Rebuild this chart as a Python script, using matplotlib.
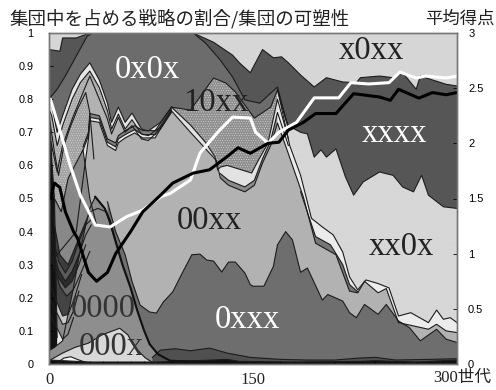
import matplotlib
matplotlib.use('Agg')
import matplotlib.pyplot as plt

plt.rcParams['hatch.linewidth'] = 0.35

# dark band / xxxx
dark_g = [0, 8, 10, 20, 30, 106, 121, 135, 140, 148, 157, 165, 171, 176, 185, 195, 204, 216, 226, 229, 243, 253, 260, 270, 273, 292, 300]
dark_v = [.95, .945, .985, .985, 1, 1, .972, .933, .91, .88, .95, .925, .928, .91, .873, .837, .865, .852, .85, .865, .87, .865, .88, .83, .87, .845, .84]

# 0x0x
oxox_g = [0, 6, 12, 20, 28, 32, 106, 115, 126, 135, 144, 155, 168, 176]
oxox_v = [.80, .83, .87, .93, .99, 1, 1, .97, .918, .867, .798, .788, .837, .71]

# 10xx
tenx_g = [90, 104, 121, 130, 137, 151, 163, 168, 176]
tenx_v = [.776, .767, .864, .849, .822, .743, .776, .828, .716]

# xx0x
xxox_g = [168, 174, 176, 185, 190, 195, 200, 204, 211, 218, 224, 231, 243, 253, 260, 268, 274, 279, 290, 300]
xxox_v = [.83, .74, .72, .70, .695, .625, .647, .625, .65, .565, .51, .55, .58, .57, .535, .52, .57, .51, .475, .47]

# bands above 00xx on the left
band_g = [0, 2, 6, 10, 17, 23, 30, 37, 43, 46, 51, 56, 61, 68, 73, 82, 90]
band_a = [.80, .78, .70, .75, .83, .875, .91, .858, .788, .73, .776, .73, .758, .71, .704, .73, .776]
band_b = [.77, .75, .66, .72, .80, .85, .885, .835, .765, .71, .755, .71, .738, .695, .69, .715, .765]
band_c = [.70, .66, .58, .66, .74, .80, .87, .80, .74, .695, .745, .70, .72, .68, .675, .71, .76]

check_g = [0, 4, 7, 11, 16, 21, 27, 30, 33]
check_v = [.75, .64, .57, .66, .72, .77, .82, .76, .62]

low_g = [25, 29, 30, 37, 43, 49, 51, 56, 63, 69, 78, 90]
low_a = [.656, .70, .757, .75, .68, .668, .69, .705, .72, .705, .705, .775]
low_b = [.645, .69, .745, .74, .67, .656, .68, .693, .708, .693, .693, .77]

# light wedges and thin strips round the 10xx hump
wedge_g = [90, 104, 115, 122, 124, 126, 131, 149, 154, 161, 168, 176]
wedge_v = [.776, .722, .67, .626, .586, .595, .60, .577, .616, .667, .80, .68]

edge_g = [126, 132, 144, 151, 157, 163, 168, 176]
edge_v = [.575, .555, .535, .555, .62, .675, .76, .66]

strip_g = [168, 177, 185, 193, 201, 209, 216, 221, 227, 233, 242, 250, 257, 266, 279, 285, 290, 295, 300]
strip_v = [.83, .66, .57, .44, .414, .39, .338, .263, .224, .254, .243, .23, .145, .155, .125, .163, .135, .14, .125]

strip2_g = [185, 196, 207, 216, 221, 227]
strip2_v = [.52, .385, .36, .30, .24, .218]

# 00xx
ooxx_g = [0, 20, 27, 29, 30, 37, 43, 49, 51, 56, 63, 69, 78, 90, 104, 123, 126, 132, 144, 151, 157, 163, 168, 175, 187, 196, 211, 221, 227, 232, 242, 248, 257, 279, 285, 292, 300]
ooxx_v = [.30, .40, .62, .68, .735, .73, .66, .645, .668, .683, .698, .683, .683, .765, .70, .615, .562, .54, .52, .54, .607, .66, .728, .647, .505, .365, .33, .22, .215, .25, .215, .228, .125, .105, .12, .10, .095]

# messy layers at the start
lump_g = [0, 4, 9, 14, 19, 25, 27, 30, 35]
lump_v = [.55, .50, .46, .56, .60, .647, .59, .50, .42]

mess1_g = [0, 4, 8, 14, 20, 26, 30, 36, 42, 48]
mess1_v = [.50, .42, .33, .30, .36, .42, .46, .47, .46, .38]

mess1b_g = [0, 3, 7, 12, 17, 22, 27, 32]
mess1b_v = [.46, .38, .31, .275, .31, .37, .42, .44]

mess1c_g = [0, 3, 7, 12, 17, 22, 27, 31]
mess1c_v = [.42, .35, .285, .25, .28, .33, .39, .42]

mess1d_g = [0, 3, 7, 12, 17, 22, 27]
mess1d_v = [.38, .32, .26, .23, .25, .30, .36]

mess2_g = [0, 4, 8, 13, 18, 24, 30]
mess2_v = [.34, .29, .235, .205, .225, .28, .34]

mess3_g = [0, 3, 7, 10, 14, 18, 24]
mess3_v = [.24, .215, .175, .145, .15, .19, .27]

mess3b_g = [0, 3, 7, 10, 14, 18, 22]
mess3b_v = [.20, .175, .145, .12, .125, .16, .22]

mess4_g = [0, 3, 7, 10, 14, 18]
mess4_v = [.16, .13, .10, .075, .09, .14]

stripe_g = [0, 2, 4, 5, 6]
stripe_v = [.78, .62, .50, .30, .08]

# 0xxx
oxxx_g = [43, 49, 56, 61, 67, 74, 79, 84, 91, 98, 105, 111, 116, 121, 127, 132, 137, 144, 148, 150, 158, 165, 168, 174, 179, 185, 190, 201, 205, 216, 221, 226, 232, 242, 248, 257, 265, 273, 285, 292, 300]
oxxx_v = [.49, .40, .33, .25, .178, .157, .154, .187, .218, .275, .33, .332, .314, .311, .278, .308, .308, .275, .24, .235, .235, .295, .36, .40, .375, .277, .29, .193, .21, .19, .155, .14, .18, .15, .18, .13, .11, .07, .105, .075, .065]

# 0000 / 000x
zero_g = [0, 4, 10, 14, 18, 21, 26, 30, 34, 41, 45, 49, 54, 60, 65, 70, 74, 80, 89, 148]
zero_v = [.04, .05, .07, .15, .23, .30, .40, .47, .505, .47, .43, .37, .30, .23, .16, .10, .06, .03, .01, 0]

ooox_g = [0, 10, 19, 29, 39, 52, 58, 63, 71, 76]
ooox_v = [.01, .033, .05, .063, .088, .108, .088, .05, .018, .005]

spot_g = [6, 11, 16, 22, 28]
spot_v = [.004, .018, .022, .012, .004]

# thin layers along the bottom
noise_g = [76, 82, 93, 104, 118, 131, 148, 170, 190, 210, 228, 240, 255, 280, 300]
noise_v = [.02, .042, .046, .04, .048, .033, .02, .014, .012, .012, .018, .02, .012, .014, .016]

base_g = [0, 30, 80, 120, 131, 140, 180, 230, 240, 270, 300]
base_v = [.012, .006, .006, .012, .014, .008, .006, .008, .01, .006, .012]

# lines
white_g = [1, 8, 15, 23, 28, 34, 45, 57, 69, 82, 89, 104, 111, 124, 135, 148, 152, 161, 169, 182, 195, 204, 213, 222, 235, 250, 258, 270, 277, 292, 300]
white_v = [.80, .707, .607, .51, .47, .42, .414, .445, .465, .505, .515, .556, .637, .70, .746, .743, .70, .667, .70, .73, .804, .804, .804, .85, .846, .85, .882, .864, .87, .864, .87]

black_g = [1, 4, 8, 12, 18, 21, 29, 35, 43, 49, 60, 69, 82, 91, 106, 118, 131, 139, 148, 161, 169, 176, 187, 196, 211, 224, 243, 251, 257, 272, 282, 292, 300]
black_v = [1.5, 1.64, 1.6, 1.38, 1.2, 1.14, .83, .75, .83, 1.0, 1.2, 1.38, 1.53, 1.64, 1.73, 1.76, 1.88, 1.96, 1.91, 2.0, 2.01, 2.12, 2.19, 2.27, 2.27, 2.45, 2.42, 2.39, 2.49, 2.41, 2.46, 2.44, 2.46]

left_ticks = [0, .1, .2, .3, .4, .5, .6, .7, .8, .9, 1]
left_labels = ['0', '0.1', '0.2', '0.3', '0.4', '0.5', '0.6', '0.7', '0.8', '0.9', '1']
right_ticks = [0, .5, 1, 1.5, 2, 2.5, 3]
right_labels = ['0', '0.5', '1', '1.5', '2', '2.5', '3']

# drawn from the top of the stack down, each one paints over the last
layers = [
    (dark_g, dark_v, '#565656', None),
    (oxox_g, oxox_v, '#6c6c6c', None),
    (tenx_g, tenx_v, '#8e8e8e', '.......'),
    (wedge_g, wedge_v, '#e2e2e2', None),
    (edge_g, edge_v, '#8a8a8a', None),
    (xxox_g, xxox_v, '#d6d6d6', '.......'),
    (strip_g, strip_v, '#ececec', None),
    (strip2_g, strip2_v, '#777777', None),
    (band_g, band_a, '#e6e6e6', None),
    (band_g, band_b, '#a8a8a8', '.......'),
    (band_g, band_c, '#b2b2b2', None),
    (check_g, check_v, '#a0a0a0', '.......'),
    (low_g, low_a, '#808080', None),
    (low_g, low_b, '#e8e8e8', None),
    (ooxx_g, ooxx_v, '#b2b2b2', None),
    (lump_g, lump_v, '#888888', None),
    (mess1_g, mess1_v, '#3c3c3c', None),
    (mess1b_g, mess1b_v, '#5a5a5a', None),
    (mess1c_g, mess1c_v, '#2c2c2c', None),
    (mess1d_g, mess1d_v, '#666666', None),
    (mess2_g, mess2_v, '#444444', None),
    (mess3_g, mess3_v, '#c8c8c8', None),
    (mess3b_g, mess3b_v, '#8c8c8c', None),
    (mess4_g, mess4_v, '#e8e8e8', None),
    (oxxx_g, oxxx_v, '#6e6e6e', None),
    (stripe_g, stripe_v, '#111111', None),
    (zero_g, zero_v, '#8e8e8e', None),
    (ooox_g, ooox_v, '#d8d8d8', None),
    (spot_g, spot_v, '#f4f4f4', None),
    (noise_g, noise_v, '#505050', None),
    (base_g, base_v, '#111111', None),
]

fig = plt.figure(figsize=(4.96, 3.9), dpi=100)
ax = fig.add_axes([49 / 496, 1 - 364 / 390, 408 / 496, 331 / 390])
ax.set_facecolor('#d6d6d6')

for g, v, col, hatch in layers:
    ax.fill_between(g, 0, v, facecolor=col, edgecolor='#dddddd' if hatch else 'none', hatch=hatch, linewidth=0)
    ax.plot(g, v, color='#1c1c1c', lw=0.8)
ax.plot(zero_g[8:], zero_v[8:], color='#111111', lw=1.5)

ax.plot(white_g, white_v, color='white', lw=2.2, solid_capstyle='round')
ax.set_xlim(0, 300)
ax.set_ylim(0, 1)
ax.set_xticks([0, 150])
ax.set_xticklabels(['0', '150'], family='Liberation Serif', fontsize=12, color='#222222')
ax.set_xticks(range(0, 301, 10), minor=True)
ax.tick_params(axis='x', which='both', direction='in', length=2, width=0.6, pad=6)
ax.set_yticks(left_ticks)
ax.set_yticklabels(left_labels, family='Liberation Sans', fontsize=7.8)
ax.tick_params(axis='y', direction='in', length=3, width=0.6, pad=11)

ax2 = ax.twinx()
ax2.plot(black_g, black_v, color='black', lw=2.2)
ax2.set_ylim(0, 3)
ax2.set_yticks(right_ticks)
ax2.set_yticklabels(right_labels, family='Liberation Sans', fontsize=8)
ax2.tick_params(axis='y', direction='in', length=3, width=0.6, pad=8)

for a in (ax, ax2):
    for s in a.spines.values():
        s.set_color('#777777')
        s.set_linewidth(1)

labels = [
    ('0x0x', 72, .888, 'white'),
    ('10xx', 123, .788, '#222222'),
    ('x0xx', 237, .945, '#222222'),
    ('xxxx', 254, .695, 'white'),
    ('xx0x', 259, .353, '#222222'),
    ('00xx', 118, .432, '#222222'),
    ('0xxx', 146, .133, 'white'),
    ('0000', 40, .166, '#333333'),
    ('000x', 46, .051, '#333333'),
]
for name, g, v, col in labels:
    ax2.text(g, v, name, transform=ax.transData, color=col, family='Liberation Serif',
             fontsize=23.5, ha='center', va='center')

cjk = ['Noto Sans CJK JP', 'DejaVu Sans']
fig.text(10 / 496, 1 - 19 / 390, '集団中を占める戦略の割合/集団の可塑性', family=cjk, fontsize=13.3, va='center', color='#222222')
fig.text(495 / 496, 1 - 19 / 390, '平均得点', family=cjk, fontsize=12.5, va='center', ha='right', color='#222222')
fig.text(491 / 496, 1 - 378 / 390, '300世代', family=['Liberation Serif', 'Noto Sans CJK JP'], fontsize=12, va='center', ha='right', color='#222222')

fig.savefig('out.png', dpi=100)
